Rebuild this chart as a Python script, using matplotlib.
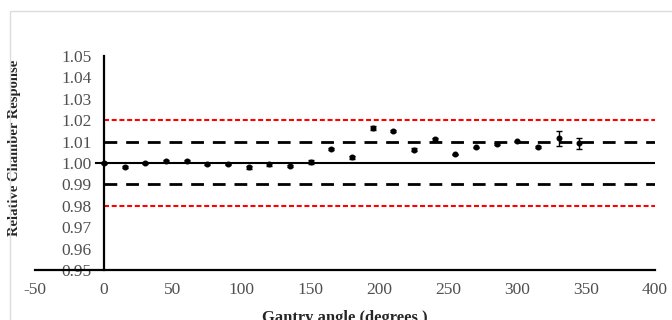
import matplotlib
matplotlib.use("Agg")
import matplotlib.pyplot as plt
from matplotlib.patches import Rectangle

angles = [0, 15, 30, 45, 60, 75, 90, 105, 120, 135, 150, 165,
          180, 195, 210, 225, 240, 255, 270, 285, 300, 315, 330, 345]
response = [1.000, 0.9982, 1.000, 1.001, 1.001, 0.9996, 0.9993, 0.9980,
            0.9993, 0.9987, 1.0005, 1.0065, 1.0027, 1.0165, 1.0148, 1.0063,
            1.0110, 1.0040, 1.0073, 1.0088, 1.0102, 1.0075, 1.0115, 1.0092]
errors = [0.0005, 0.0004, 0.0006, 0.0006, 0.0006, 0.0004, 0.0004, 0.0006,
          0.0005, 0.0004, 0.0008, 0.0003, 0.0007, 0.0009, 0.0004, 0.0008,
          0.0005, 0.0004, 0.0004, 0.0004, 0.0003, 0.0004, 0.0035, 0.0027]
line_x = [0, 400]
tol_black = [1.01, 0.99]
tol_red = [1.02, 0.98]
xticks = [-50, 0, 50, 100, 150, 200, 250, 300, 350, 400]
yticks = [0.95, 0.96, 0.97, 0.98, 0.99, 1.00, 1.01, 1.02, 1.03, 1.04, 1.05]

plt.rcParams['font.family'] = ['Liberation Serif', 'DejaVu Serif']

fig = plt.figure(figsize=(6.72, 3.2), dpi=100)
fig.patches.append(Rectangle((10/672, -0.2), 1.2, 1.2 - 11/320,
                             transform=fig.transFigure, fill=False,
                             edgecolor='#dcdcdc', lw=1.0))
ax = fig.add_axes([35/672, 1 - 270/320, 620/672, 214/320])
ax.set_xlim(-50, 400)
ax.set_ylim(0.95, 1.05)

for s in ['top', 'right']:
    ax.spines[s].set_visible(False)
ax.spines['left'].set_position(('data', 0))
ax.spines['left'].set_linewidth(1.6)
ax.spines['bottom'].set_linewidth(1.6)

for y in tol_red:
    ax.plot(line_x, [y, y], color='#ff0000', lw=1.5, linestyle=(0, (2.4, 1.3)))
for y in tol_black:
    ax.plot(line_x, [y, y], color='black', lw=2.0, linestyle=(0, (4.6, 3.2)))
ax.plot([-6, 400], [1.0, 1.0], color='black', lw=1.5)

ax.errorbar(angles, response, yerr=errors, fmt='o', color='black',
            markersize=3.3, elinewidth=1.0, capsize=2.5, capthick=1.0, zorder=5)

ax.set_xticks(xticks)
ax.set_xticklabels([str(t) for t in xticks])
ax.set_yticks(yticks)
ax.set_yticklabels([f"{t:.2f}" for t in yticks])
ax.tick_params(axis='both', length=0, labelsize=12.5, labelcolor='#505050')
ax.tick_params(axis='x', pad=9)
ax.tick_params(axis='y', pad=9)

ax.set_xlabel('Gantry angle (degrees )', fontsize=12, fontweight='bold',
              color='#262626')
ax.xaxis.set_label_coords(0.5, -0.185)
ax.set_ylabel('Relative Chamber Response', fontsize=10.5, fontweight='bold',
              color='#262626')
ax.yaxis.set_label_coords(-0.022, 0.57)

fig.savefig('out.png', dpi=100)
